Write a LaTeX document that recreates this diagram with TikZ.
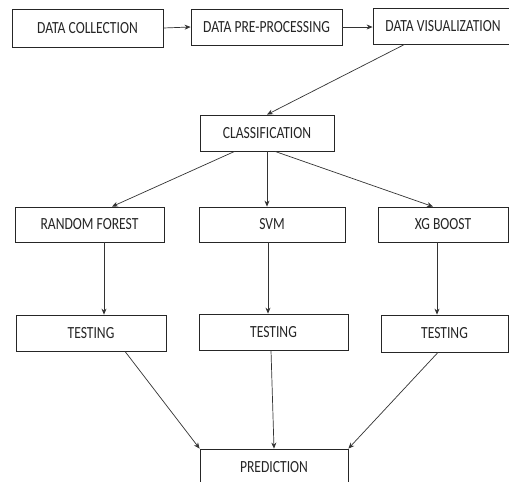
\documentclass[tikz,border=0pt]{standalone}
\usepackage{fontspec}
\setmainfont{Carlito}[FakeStretch=0.8]
\usetikzlibrary{arrows.meta,calc}
\begin{document}
\begin{tikzpicture}[x=1pt,y=-1pt,
  box/.style={draw=black!85,line width=0.8pt,rectangle,inner sep=0pt,font=\fontsize{17}{20}\selectfont,text=black!85},
  arr/.style={draw=black!80,line width=0.7pt,-{Stealth[length=6pt,width=5pt]}}]
\useasboundingbox (0,0) rectangle (509,482);
\clip (0,0) rectangle (509,482);
\fill[white] (0,0) rectangle (509,482);
\node[box,minimum width=151pt,minimum height=38pt] (dc) at (87.5,28) {DATA COLLECTION};
\node[box,minimum width=151pt,minimum height=36pt] (dpp) at (266.5,27) {DATA PRE-PROCESSING};
\node[box,minimum width=140pt,minimum height=36pt] (dv) at (443,26) {DATA VISUALIZATION};
\node[box,minimum width=134pt,minimum height=36pt] (cls) at (267,133) {CLASSIFICATION};
\node[box,minimum width=149pt,minimum height=35pt] (rf) at (89.5,224.5) {RANDOM FOREST};
\node[box,minimum width=146pt,minimum height=35pt] (svm) at (272,224.5) {SVM};
\node[box,minimum width=130pt,minimum height=35pt] (xgb) at (443,224.5) {XG BOOST};
\node[box,minimum width=150pt,minimum height=36pt] (t1) at (91,333) {TESTING};
\node[box,minimum width=149pt,minimum height=36pt] (t2) at (273.5,332) {TESTING};
\node[box,minimum width=127pt,minimum height=37pt] (t3) at (444.5,333.5) {TESTING};
\node[box,minimum width=148pt,minimum height=37pt] (pred) at (274,467.5) {PREDICTION};
\draw[arr] (dc.east) -- (dpp.west);
\draw[arr] (dpp.east) -- (dv.west |- dpp.east);
\draw[arr] ($(dv.south west)+(32,0)$) -- (cls.north);
\draw[arr] ($(cls.south west)+(35,0)$) -- ($(rf.north)+(22.5,0)$);
\draw[arr] (cls.south) -- (cls.south |- svm.north);
\draw[arr] ($(cls.south)+(8,0)$) -- ($(xgb.north)+(-10,0)$);
\draw[arr] ($(rf.south)+(14.5,0)$) -- ($(t1.north)+(13,0)$);
\draw[arr] ($(svm.south)+(-4,0)$) -- ($(t2.north)+(-5.5,0)$);
\draw[arr] ($(xgb.south)+(-6,0)$) -- ($(t3.north)+(-7.5,0)$);
\draw[arr] ($(t1.south)+(34,0)$) -- (pred.north west);
\draw[arr] ($(t2.south)+(-2.5,0)$) -- (pred.north);
\draw[arr] ($(t3.south)+(-6.5,0)$) -- (pred.north east);
\end{tikzpicture}
\end{document}
